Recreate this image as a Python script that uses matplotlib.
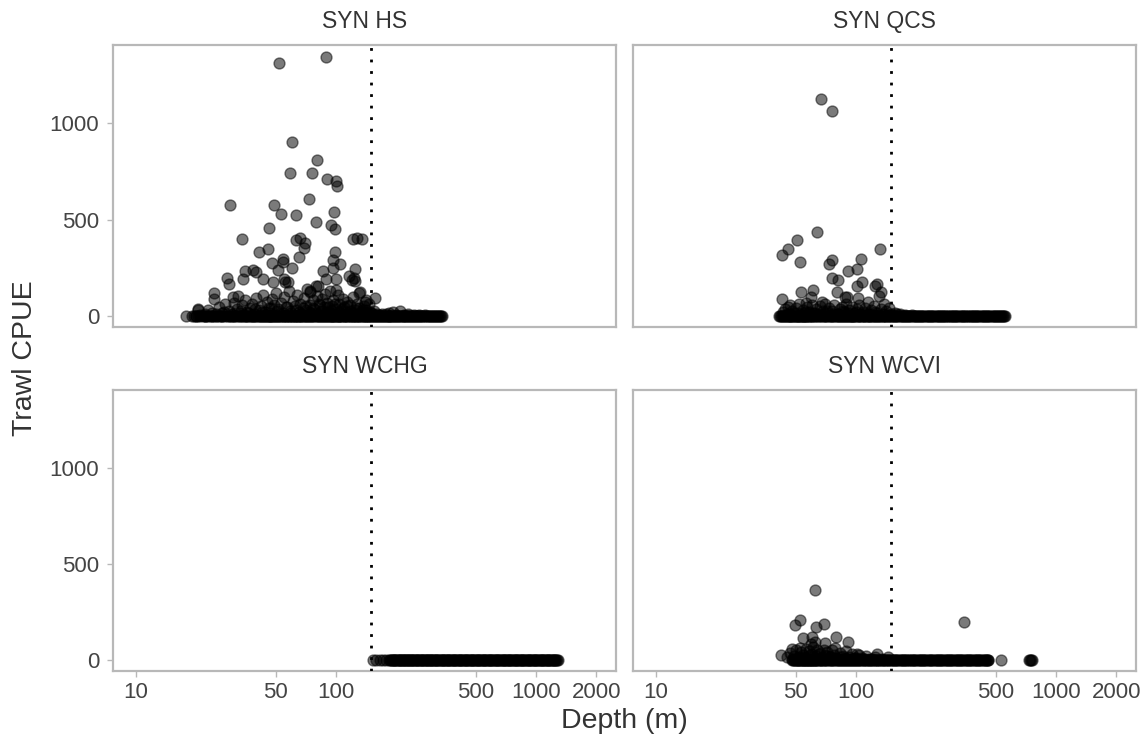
import matplotlib
matplotlib.use("Agg")
import matplotlib.pyplot as plt
from matplotlib.ticker import FixedLocator, FixedFormatter, NullLocator

plt.rcParams["font.family"] = ["Liberation Sans", "DejaVu Sans"]

# ---------------------------------------------------------------------------
# Survey tows: depth (m) and trawl CPUE, one pair of lists per survey.
# Tows with no catch are kept in separate depth lists (CPUE = 0).
# ---------------------------------------------------------------------------
surveys = ["SYN HS", "SYN QCS", "SYN WCHG", "SYN WCVI"]

hs_depth = [52, 89, 60.5, 80, 58.7, 76, 90, 100, 101, 29.5, 49, 53, 63, 73, 98,
            79, 94, 99, 46, 34, 63, 66, 70, 69, 121, 127, 135, 41, 45.5, 65, 99,
            48, 54, 54.5, 60, 97, 105, 97, 125, 35, 38.6, 28.4, 29.3, 34.4, 43,
            86, 116, 124.5, 51.5, 48.4, 55.6, 81.6, 74, 24.6, 24.6, 30.7, 32.4,
            131, 157, 140, 20.5, 39.7, 55, 57.7, 74, 79, 89, 99.7, 99.7, 120,
            123, 132, 142, 20.5, 17.7,
            22, 23, 25, 26, 27, 28, 29, 30, 31, 32, 33, 34, 35, 36, 37, 38, 39,
            40, 41, 42, 43, 44, 45, 46, 47, 48, 49, 50, 51, 53, 54, 55, 57, 58,
            59, 61, 62, 64, 65, 66, 68, 69, 71, 72, 74, 75, 77, 78, 80, 82, 84,
            85, 87, 88, 90, 92, 93, 95, 97, 100, 102, 104, 106, 108, 110, 113,
            115, 118, 121, 124, 127, 130, 134, 138, 142, 146, 150, 155, 160,
            170, 185, 193, 208, 230, 260,
            21, 24, 27.5, 30.5, 33.5, 36.5, 39.5, 42.5, 45, 47.5, 50.5, 52.5,
            56, 59.5, 63, 67, 70.5, 73, 76.5, 79, 83, 86, 89, 91, 94, 96, 99,
            103, 107, 111, 114, 117, 122, 126, 131, 136, 140, 144, 148, 153,
            165, 178, 200, 220, 245, 280]
hs_cpue = [1312, 1346, 902, 808, 744, 744, 710, 701, 677, 575, 575, 531, 526,
           606, 542, 486, 471, 450, 458, 398, 393, 407, 377, 353, 398, 405, 401,
           331, 349, 306, 334, 277, 294, 282, 248, 291, 270, 251, 244, 234, 239,
           199, 165, 191, 191, 232, 209, 183, 239, 178, 178, 157, 131, 121, 88,
           100, 105, 118, 92, 74, 35, 228, 191, 178, 126, 156, 191, 191, 135,
           187, 196, 126, 83, 31, 0,
           12, 30, 8, 45, 18, 60, 25, 10, 70, 35, 15, 55, 85, 20, 40, 65, 12,
           95, 30, 50, 110, 22, 75, 40, 15, 90, 55, 120, 35, 70, 18, 100, 45,
           130, 25, 80, 50, 110, 20, 65, 40, 95, 30, 140, 55, 15, 85, 35, 105,
           60, 25, 90, 45, 115, 70, 20, 130, 50, 85, 35, 110, 60, 25, 90, 45,
           75, 15, 55, 100, 30, 65, 40, 20, 50, 30, 60, 15, 25, 10, 8, 15, 22,
           26, 8, 5,
           6, 15, 22, 8, 28, 14, 38, 20, 6, 42, 25, 10, 48, 18, 32, 8, 52, 22,
           40, 12, 58, 28, 14, 45, 30, 8, 62, 20, 36, 10, 50, 26, 16, 42, 8,
           30, 18, 10, 22, 12, 6, 10, 4, 6, 3, 4]
hs_zero_depth = [19, 20, 20, 21, 22, 22, 23, 24, 24, 25, 26, 27, 27, 28, 29, 30,
                 31, 31, 32, 33, 34, 35, 36, 37, 38, 39, 40, 41, 42, 43, 44, 45,
                 46, 47, 48, 49, 50, 51, 52, 53, 54, 55, 56, 57, 58, 59, 60, 61,
                 62, 63, 64, 65, 66, 67, 68, 70, 71, 72, 73, 75, 76, 78, 79, 81,
                 82, 84, 86, 87, 89, 91, 93, 95, 97, 99, 101, 103, 105, 107, 110,
                 112, 114, 117, 119, 122, 125, 127, 130, 133, 136, 139, 142, 145,
                 148, 151, 155, 158, 162, 165, 169, 173, 177, 181, 185, 189, 193,
                 198, 202, 207, 212, 217, 222, 227, 232, 238, 243, 249, 255, 261,
                 267, 273, 280, 287, 294, 301, 308, 315, 322, 330, 337,
                 19.5, 20.5, 21.5, 22.5, 23.5, 24.5, 25.5, 26.5, 28.5, 29.5, 30.5,
                 32.5, 33.5, 34.5, 35.5, 36.5, 37.5, 38.5, 39.5, 40.5, 41.5, 42.5,
                 43.5, 44.5, 45.5, 46.5, 47.5, 48.5, 49.5, 50.5, 52.5, 54.5, 56.5,
                 58.5, 60.5, 62.5, 64.5, 66.5, 69, 72.5, 74, 77, 80, 83, 85, 88,
                 90, 92, 94, 96, 98, 100, 102, 104, 106, 109, 111, 115, 118, 121,
                 123, 126, 129, 131, 135, 138, 141, 144, 147, 150, 153, 157, 160,
                 164, 167, 171, 175, 179, 183, 187, 191, 196, 200, 205, 210, 215,
                 220, 225, 230, 235, 241, 246, 252, 258, 264, 270, 277, 284, 291,
                 298, 305, 312, 319, 326, 334]

qcs_depth = [67, 75.5, 64, 50.5, 45.7, 42.8, 52.7, 132, 105.5, 75.5, 73.6, 101.5,
             91, 76, 81.6, 106.7, 101.5, 127, 124.5, 133.7, 131, 42.8, 53.3,
             60.8, 80, 88, 90.5, 59.4, 56, 45.9, 67.8, 102, 115,
             43, 44, 46, 47, 48, 50, 51, 52, 54, 55, 57, 58, 60, 61, 63, 65, 66,
             68, 70, 71, 73, 76, 78, 81, 83, 85, 87, 89, 92, 95, 98, 101, 104,
             108, 111, 115, 119, 123, 128, 133, 138, 142, 146, 150, 156, 165, 175,
             45, 49, 53, 56, 59, 62, 67, 72, 77, 82, 86, 91, 96, 100, 106, 112,
             118, 125, 136, 144, 160, 190]
qcs_cpue = [1127, 1064, 436, 395, 346, 317, 280, 346, 298, 291, 268, 246, 234,
            196, 187, 177, 157, 166, 157, 126, 104, 90, 126, 135, 126, 100, 100,
            100, 66, 48, 74, 92, 74,
            20, 35, 10, 55, 25, 40, 15, 60, 30, 12, 45, 22, 58, 18, 38, 8, 50,
            28, 62, 15, 42, 25, 55, 12, 35, 48, 20, 60, 30, 45, 15, 38, 55, 22,
            40, 12, 30, 50, 18, 35, 60, 25, 40, 12, 18, 8, 5,
            8, 14, 6, 22, 10, 16, 6, 24, 12, 8, 28, 14, 6, 20, 10, 16, 8, 22, 12,
            6, 8, 4]
qcs_zero_depth = [41, 42, 43, 44, 45, 46, 47, 48, 49, 50, 51, 52, 53, 54, 55, 56,
                  57, 58, 59, 60, 61, 62, 64, 65, 66, 68, 69, 71, 72, 74, 75, 77,
                  79, 80, 82, 84, 86, 88, 90, 92, 94, 96, 98, 100, 103, 105, 108,
                  110, 113, 116, 118, 121, 124, 127, 130, 134, 137, 140, 144, 147,
                  151, 155, 159, 163, 167, 171, 175, 180, 184, 189, 194, 199, 204,
                  209, 214, 220, 226, 231, 237, 243, 250, 256, 263, 269, 276, 283,
                  290, 298, 305, 313, 321, 330, 338, 347, 356, 365, 374, 384, 394,
                  404, 414, 425, 436, 447, 458, 470, 482, 494, 507, 520, 533, 546,
                  555,
                  41.5, 42.5, 43.5, 44.5, 45.5, 46.5, 47.5, 48.5, 49.5, 50.5, 51.5,
                  52.5, 53.5, 54.5, 55.5, 56.5, 58.5, 60.5, 63, 67, 70, 73, 76, 78,
                  81, 83, 85, 87, 89, 91, 93, 95, 97, 99, 102, 104, 107, 109, 112,
                  115, 117, 120, 123, 126, 129, 132, 136, 139, 142, 146, 149, 153,
                  157, 161, 165, 169, 173, 178, 182, 187, 192, 197, 202, 207, 212,
                  217, 223, 229, 234, 240, 246, 253, 260, 266, 273, 280, 287, 294,
                  302, 309, 317, 325, 334, 343, 352, 361, 370, 379, 389, 399, 409,
                  420, 431, 442, 453, 464, 476, 488, 500, 513, 526, 540, 550]

wchg_depth = []
wchg_cpue = []
wchg_zero_depth = [153, 158, 166, 172, 178, 185, 188, 192, 196, 200, 204, 208,
                   212, 216, 220, 224, 228, 232, 237, 241, 246, 250, 255, 260, 265,
                   270, 275, 281, 286, 292, 297, 303, 309, 315, 321, 328, 334, 341,
                   347, 354, 361, 368, 376, 383, 391, 399, 407, 415, 423, 432, 440,
                   449, 458, 467, 476, 486, 495, 505, 515, 526, 536, 547, 558, 569,
                   581, 592, 604, 616, 629, 641, 654, 667, 681, 694, 708, 723, 737,
                   752, 767, 783, 798, 814, 831, 847, 864, 882, 900, 918, 936, 955,
                   974, 994, 1014, 1034, 1055, 1076, 1098, 1120, 1143, 1166, 1189,
                   1213, 1237, 1262, 1288,
                   186, 190, 194, 198, 202, 206, 210, 214, 218, 222, 226, 230, 235,
                   239, 244, 248, 253, 258, 263, 268, 273, 278, 284, 289, 295, 300,
                   306, 312, 318, 325, 331, 338, 344, 351, 358, 365, 372, 380, 387,
                   395, 403, 411, 419, 428, 436, 445, 454, 463, 472, 481, 491, 500,
                   510, 520, 531, 542, 552, 563, 575, 587, 598, 610, 622, 635, 648,
                   661, 674, 688, 701, 715, 730, 745, 760, 775, 790, 806, 822, 839,
                   856, 873, 891, 909, 927, 946, 965, 984, 1004, 1024, 1045, 1066,
                   1087, 1109, 1131, 1154, 1177, 1201, 1225, 1250, 1275]

wcvi_depth = [62, 52.7, 49.8, 63, 69, 348, 54.4, 60, 79.4, 90.8, 42, 59.4, 62.4,
              47.6, 52.5, 70, 78.6, 101, 127,
              45, 47, 49, 50, 51, 53, 54, 56, 57, 58, 60, 61, 63, 64, 66, 67, 69,
              70, 72, 74, 76, 78, 80, 83, 86, 89, 92, 95, 99, 103, 107, 112, 118,
              125, 135, 145,
              48, 52, 55, 59, 62, 65, 68, 71, 75, 79, 84, 88, 94, 100, 110, 120]
wcvi_cpue = [363, 211, 182, 171, 188, 199, 114, 121, 121, 95, 26, 83, 95, 57, 65,
             91, 65, 31, 31,
             15, 35, 20, 50, 10, 40, 25, 60, 15, 45, 30, 70, 20, 50, 35, 12, 55,
             25, 40, 15, 50, 28, 10, 35, 20, 45, 15, 30, 10, 25, 12, 20, 8, 15, 6,
             18,
             8, 18, 6, 24, 12, 30, 8, 20, 14, 6, 16, 10, 8, 12, 6, 4]
wcvi_zero_depth = [48, 49, 50, 51, 52, 53, 54, 55, 56, 57, 58, 59, 60, 61, 62, 63,
                   64, 66, 67, 68, 70, 71, 73, 74, 76, 77, 79, 81, 83, 85, 87, 89,
                   91, 93, 95, 98, 100, 102, 105, 108, 110, 113, 116, 119, 122,
                   125, 128, 131, 135, 138, 142, 145, 149, 153, 157, 161, 165, 169,
                   174, 178, 183, 188, 193, 198, 203, 208, 214, 219, 225, 231, 237,
                   243, 250, 256, 263, 270, 277, 284, 291, 299, 307, 315, 323, 331,
                   340, 349, 358, 367, 377, 387, 397, 407, 418, 429, 440, 451, 457,
                   531, 733, 740, 748, 760,
                   48.5, 49.5, 50.5, 51.5, 52.5, 53.5, 54.5, 55.5, 56.5, 57.5, 58.5,
                   59.5, 60.5, 61.5, 63, 65, 67, 69, 72, 75, 78, 80, 82, 84, 86, 88,
                   90, 92, 94, 97, 99, 101, 104, 106, 109, 112, 115, 117, 120, 124,
                   127, 130, 133, 137, 140, 144, 147, 151, 155, 159, 163, 167, 171,
                   176, 180, 185, 190, 195, 200, 206, 211, 217, 222, 228, 234, 240,
                   247, 253, 260, 266, 273, 281, 288, 295, 303, 311, 319, 327, 336,
                   344, 353, 362, 372, 382, 392, 402, 412, 423, 434, 445, 455]

depth_cutoff = 150  # reference depth shown as the dotted line

x_ticks = [10, 50, 100, 500, 1000, 2000]
x_tick_labels = ["10", "50", "100", "500", "1000", "2000"]
y_ticks = [0, 500, 1000]
y_tick_labels = ["0", "500", "1000"]

panel_data = {
    "SYN HS": (hs_depth, hs_cpue, hs_zero_depth),
    "SYN QCS": (qcs_depth, qcs_cpue, qcs_zero_depth),
    "SYN WCHG": (wchg_depth, wchg_cpue, wchg_zero_depth),
    "SYN WCVI": (wcvi_depth, wcvi_cpue, wcvi_zero_depth),
}

# ---------------------------------------------------------------------------
W, H = 1144, 742
fig = plt.figure(figsize=(W / 100, H / 100), dpi=100)
fig.patch.set_facecolor("white")

# panel boxes in pixels: (left, top, right, bottom)
boxes = [(113, 45, 616, 327), (633, 45, 1136, 327),
         (113, 390, 616, 671), (633, 390, 1136, 671)]

frame_col = "#b8b8b8"
text_col = "#333333"
tick_col = "#444444"

for i, (name, (l, t, r, b)) in enumerate(zip(surveys, boxes)):
    ax = fig.add_axes([l / W, 1 - b / H, (r - l) / W, (b - t) / H])
    depth, cpue, zero_depth = panel_data[name]
    all_depth = list(zero_depth) + list(depth)
    all_cpue = [0] * len(zero_depth) + list(cpue)
    ax.scatter(all_depth, all_cpue, s=62, facecolor=(0, 0, 0, 0.52),
               edgecolor=(0, 0, 0, 0.5), linewidth=1.0, zorder=2)
    ax.axvline(depth_cutoff, color="black", lw=2.0,
               linestyle=(0, (1, 3.15)), dash_capstyle="butt", zorder=3)

    ax.set_xscale("log")
    ax.set_xlim(7.67, 2512)
    ax.set_ylim(-57, 1407)
    ax.xaxis.set_major_locator(FixedLocator(x_ticks))
    ax.xaxis.set_major_formatter(FixedFormatter(x_tick_labels))
    ax.xaxis.set_minor_locator(NullLocator())
    ax.yaxis.set_major_locator(FixedLocator(y_ticks))
    ax.yaxis.set_major_formatter(FixedFormatter(y_tick_labels))

    for sp in ax.spines.values():
        sp.set_color(frame_col)
        sp.set_linewidth(1.6)

    ax.tick_params(axis="both", which="major", length=4, width=1.0,
                   color=frame_col, labelcolor=tick_col, labelsize=16)
    ax.tick_params(axis="x", pad=4)
    ax.tick_params(axis="y", pad=6)

    if i < 2:
        ax.tick_params(axis="x", bottom=False, labelbottom=False)
    if i % 2 == 1:
        ax.tick_params(axis="y", left=False, labelleft=False)

    ax.text(0.5, 1 + 23.5 / (b - t), name, transform=ax.transAxes,
            ha="center", va="center", fontsize=16.5, color=text_col)

fig.text(25 / W, 1 - 358 / H, "Trawl CPUE", rotation=90, ha="center",
         va="center", fontsize=20.5, color=text_col)
fig.text(624.5 / W, 1 - 721 / H, "Depth (m)", ha="center", va="center",
         fontsize=20.5, color=text_col)

fig.savefig("out.png", dpi=100, facecolor="white")
